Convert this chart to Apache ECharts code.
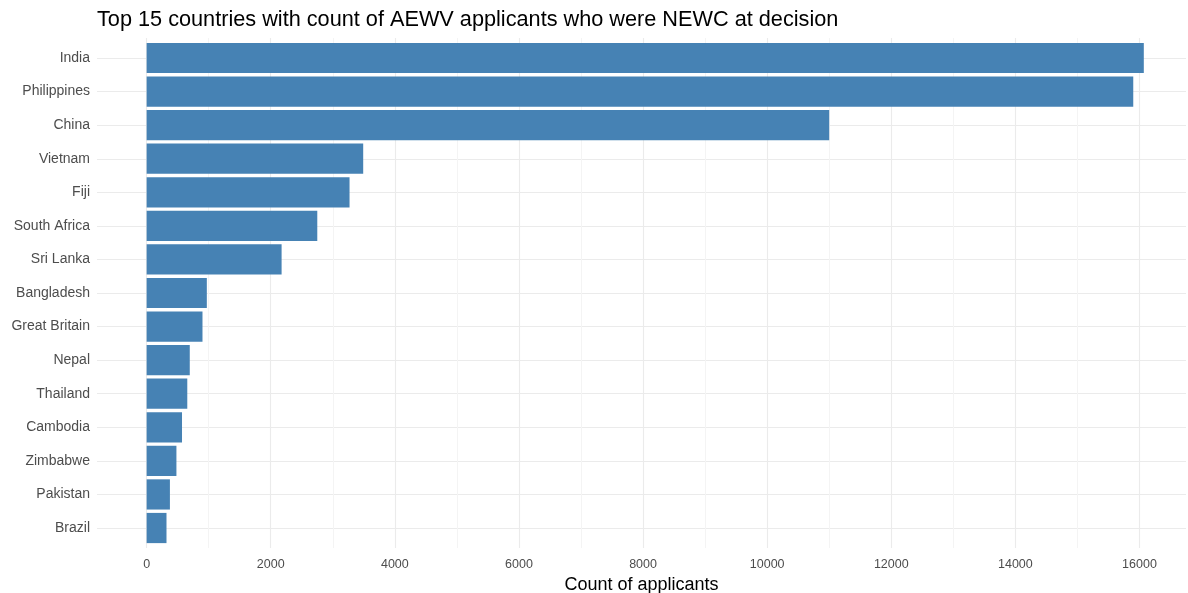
<!DOCTYPE html>
<html><head><meta charset="utf-8">
<script src="https://cdn.jsdelivr.net/npm/echarts@6/dist/echarts.min.js"></script>
<style>html,body{margin:0;padding:0;background:#fff}#c{width:1188px;height:593px}</style>
</head><body><div id="c"></div>
<script>
const countries = ["India","Philippines","China","Vietnam","Fiji","South Africa","Sri Lanka","Bangladesh","Great Britain","Nepal","Thailand","Cambodia","Zimbabwe","Pakistan","Brazil"];
const applicants = [16070,15900,11000,3490,3270,2750,2175,970,900,695,655,570,480,375,320];
const majorTicks = [0,2000,4000,6000,8000,10000,12000,14000,16000];
const minorTicks = [1000,3000,5000,7000,9000,11000,13000,15000];
const rowPositions = countries.map((c,i)=>i+1);

const font = "'Liberation Sans', Arial, sans-serif";
const X_MIN = -800, X_MAX = 16750;
const chart = echarts.init(document.getElementById('c'), null, {renderer:'canvas'});
chart.setOption({
  animation:false,
  backgroundColor:'#fff',
  title:{text:'Top 15 countries with count of AEWV applicants who were NEWC at decision',
    left:92, top:4, textStyle:{fontFamily:font, fontSize:21.7, fontWeight:'normal', color:'#000'}},
  grid:[
    {left:97, right:2, top:41.2, bottom:48.2, outerBoundsMode:'none', containLabel:false},
    {left:97, right:2, top:38, bottom:45, outerBoundsMode:'none', containLabel:false}
  ],
  xAxis:[
    {type:'value', gridIndex:0, min:X_MIN, max:X_MAX, show:false},
    {type:'value', gridIndex:1, min:X_MIN, max:X_MAX,
      axisLine:{show:false}, axisTick:{show:false, customValues:majorTicks},
      axisLabel:{customValues:majorTicks, formatter:v=>String(v), color:'#4d4d4d', fontFamily:font, fontSize:12.5, margin:10},
      splitLine:{show:true, lineStyle:{color:'#ebebeb', width:1.1}},
      name:'Count of applicants', nameLocation:'middle', nameGap:18,
      nameTextStyle:{fontFamily:font, fontSize:18, color:'#000'}},
    {type:'value', gridIndex:1, min:X_MIN, max:X_MAX,
      axisLine:{show:false}, axisTick:{show:false, customValues:minorTicks},
      axisLabel:{show:false},
      splitLine:{show:true, lineStyle:{color:'#f4f4f4', width:1}}}
  ],
  yAxis:[
    {type:'category', gridIndex:0, data:countries, inverse:true,
      axisLine:{show:false}, axisTick:{show:false}, splitLine:{show:false},
      axisLabel:{color:'#4d4d4d', fontFamily:font, fontSize:14, margin:7}},
    {type:'value', gridIndex:1, min:0.4, max:15.6, inverse:true,
      axisLine:{show:false}, axisTick:{show:false, customValues:rowPositions},
      axisLabel:{show:false},
      splitLine:{show:true, lineStyle:{color:'#ebebeb', width:1.1}}}
  ],
  series:[
    {type:'bar', xAxisIndex:0, yAxisIndex:0, data:applicants,
      barCategoryGap:'10%', itemStyle:{color:'#4682B4'}, silent:true}
  ]
});
</script></body></html>
